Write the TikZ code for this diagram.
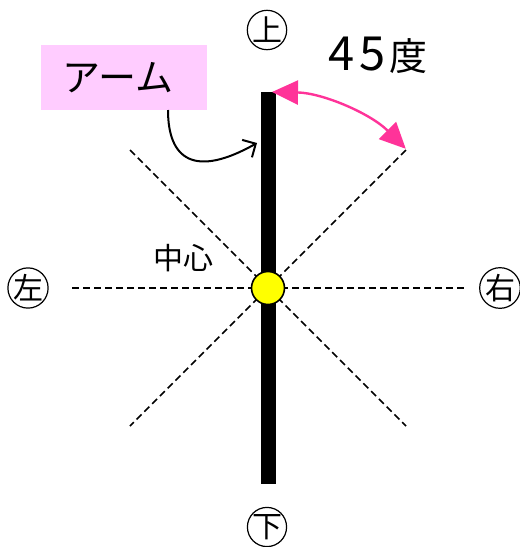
\documentclass[tikz,border=0pt]{standalone}
\usepackage{fontspec}
\setmainfont{Noto Sans CJK JP}
\usetikzlibrary{arrows.meta}
\definecolor{boxpink}{HTML}{FFCCFF}
\definecolor{arcpink}{HTML}{FF3399}
\definecolor{dotyellow}{HTML}{FFFF00}
\begin{document}
\begin{tikzpicture}[x=1pt,y=-1pt,
  guide/.style={draw=black,line width=1.7pt,dash pattern=on 7pt off 4pt},
  circled/.style={circle,draw=black,line width=1.2pt,minimum size=39pt,inner sep=0pt,font=\fontsize{30}{30}\selectfont},
  lbl/.style={inner sep=0pt}]
\useasboundingbox (0,0) rectangle (520,547);
\coordinate (c) at (268,288);
\coordinate (hl) at (72,288);
\coordinate (hr) at (466,288);
\coordinate (d1a) at (130,150);
\coordinate (d1b) at (406,426);
\coordinate (d2a) at (406,150);
\coordinate (d2b) at (130,426);
\draw[guide] (hl) -- (hr);
\draw[guide] (d1a) -- (d1b);
\draw[guide] (d2a) -- (d2b);
\coordinate (bt) at (268,92);
\coordinate (bb) at (268,484);
\draw[line width=15pt] (bt) -- (bb);
\node[circle,fill=dotyellow,draw=black,line width=1.6pt,minimum size=33pt,inner sep=0pt] (ctr) at (c) {};
\node[circled] (up) at (267,30) {上};
\node[circled] (down) at (267,527) {下};
\node[circled] (left) at (28,288) {左};
\node[circled] (right) at (500,288) {右};
\node[fill=boxpink,minimum width=166pt,minimum height=65pt,inner sep=0pt,font=\fontsize{38}{38}\selectfont] (arm) at (124,77.5) {\hspace*{-12pt}アーム};
\coordinate (armtip) at (257,143);
\draw[line width=2pt,-{Straight Barb[length=10pt,width=20pt,line width=2pt]}] (168,110) .. controls (168,160) and (195,178) .. (armtip);
\node[lbl,font=\fontsize{38}{38}\selectfont] (deg) at (378,55) {{\fontsize{47}{47}\selectfont 4\hspace{5pt}5}\hspace{4pt}度};
\node[lbl,font=\fontsize{30}{30}\selectfont] (center) at (183,258) {中心};
\draw[arcpink,line width=2.4pt,{Triangle[length=26pt,width=24pt]}-{Triangle[length=26pt,width=24pt]}] (272,92) arc[start angle=-89,end angle=-45,radius=194];
\end{tikzpicture}
\end{document}
